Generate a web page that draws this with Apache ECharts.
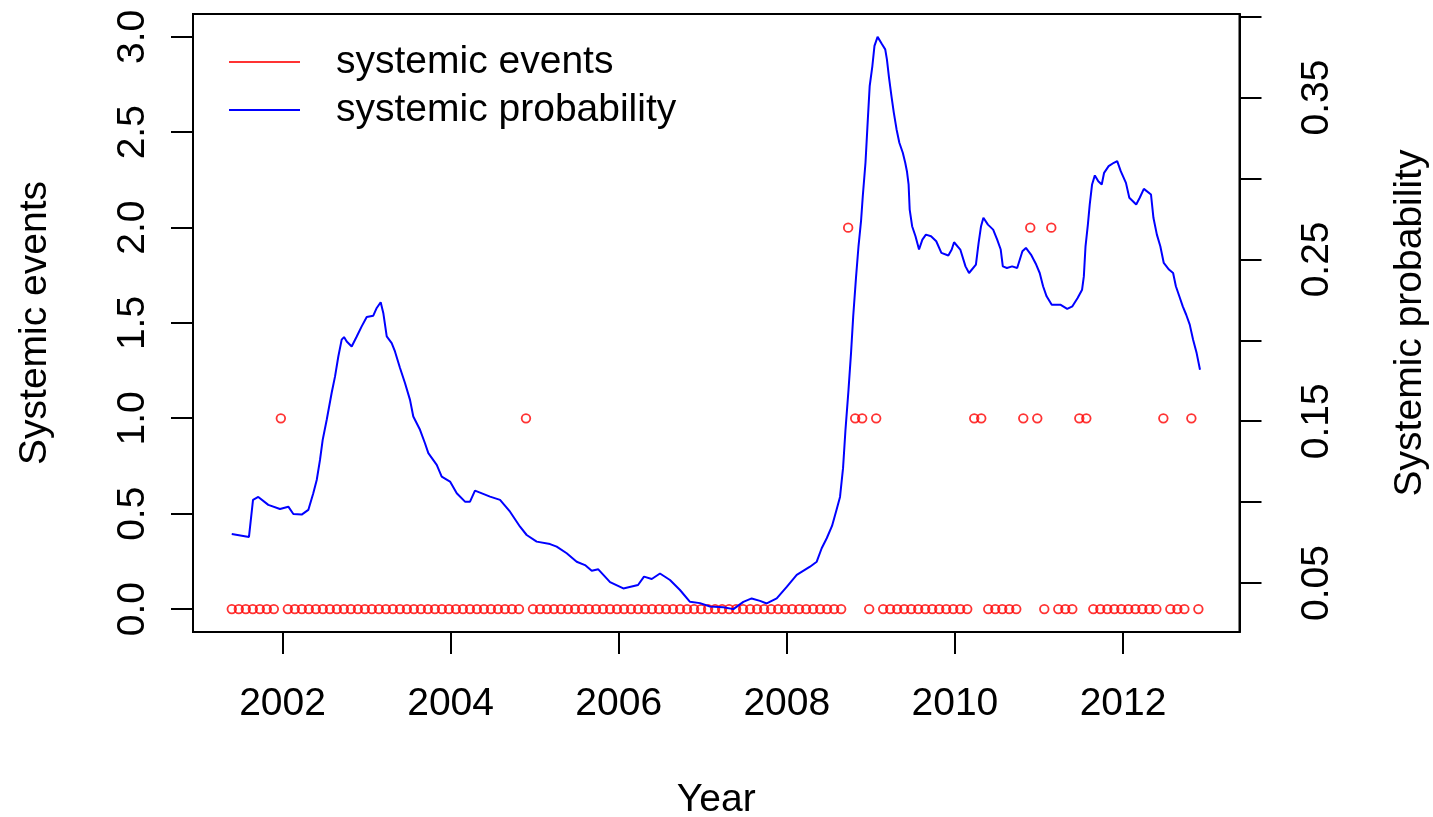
<!DOCTYPE html>
<html>
<head>
<meta charset="utf-8">
<script src="https://cdn.jsdelivr.net/npm/echarts@6/dist/echarts.min.js"></script>
<style>
html,body{margin:0;padding:0;background:#ffffff;}
#chart{width:1433px;height:817px;background:#ffffff;}
</style>
</head>
<body>
<div id="chart"></div>
<script>
// ---------------- data ----------------
// Monthly systemic event counts, first observation May 2001
const eventStartYear = 2001;
const eventStartMonth = 5;
const eventDayFraction = 0.76; // observations fall late in each month
const eventCounts = [
  0,0,0,0,0,0,0,1,                 // 2001 May-Dec
  0,0,0,0,0,0,0,0,0,0,0,0,         // 2002
  0,0,0,0,0,0,0,0,0,0,0,0,         // 2003
  0,0,0,0,0,0,0,0,0,0,1,0,         // 2004
  0,0,0,0,0,0,0,0,0,0,0,0,         // 2005
  0,0,0,0,0,0,0,0,0,0,0,0,         // 2006
  0,0,0,0,0,0,0,0,0,0,0,0,         // 2007
  0,0,0,0,0,0,0,0,2,1,1,0,         // 2008
  1,0,0,0,0,0,0,0,0,0,0,0,         // 2009
  0,0,1,1,0,0,0,0,0,1,2,1,         // 2010
  0,2,0,0,0,1,1,0,0,0,0,0,         // 2011
  0,0,0,0,0,1,0,0,0,1,0            // 2012 Jan-Nov
];

// Systemic probability (decimal year, probability)
const probYears = [
  2001.396,2001.601,2001.649,2001.712,2001.831,2001.970,2002.069,2002.129,2002.228,2002.307,
  2002.366,2002.407,2002.446,2002.478,2002.526,2002.585,2002.625,2002.664,2002.704,2002.732,
  2002.764,2002.823,2002.883,2002.942,2003.002,2003.080,2003.121,2003.168,2003.199,2003.240,
  2003.299,2003.338,2003.398,2003.457,2003.517,2003.556,2003.636,2003.695,2003.735,2003.835,
  2003.894,2003.993,2004.073,2004.171,2004.231,2004.290,2004.350,2004.469,2004.588,2004.707,
  2004.826,2004.905,2005.024,2005.183,2005.262,2005.381,2005.500,2005.599,2005.679,2005.757,
  2005.897,2006.055,2006.230,2006.301,2006.393,2006.491,2006.610,2006.729,2006.848,2006.967,
  2007.086,2007.245,2007.364,2007.483,2007.582,2007.681,2007.761,2007.880,2007.999,2008.118,
  2008.276,2008.356,2008.415,2008.475,2008.538,2008.591,2008.633,2008.669,2008.698,2008.734,
  2008.764,2008.790,2008.823,2008.853,2008.883,2008.904,2008.936,2008.965,2008.986,2009.018,
  2009.043,2009.080,2009.133,2009.171,2009.191,2009.216,2009.245,2009.273,2009.306,2009.339,
  2009.380,2009.409,2009.429,2009.449,2009.462,2009.491,2009.531,2009.573,2009.613,2009.655,
  2009.716,2009.778,2009.839,2009.922,2009.962,2009.990,2010.064,2010.126,2010.168,2010.250,
  2010.282,2010.311,2010.339,2010.393,2010.455,2010.503,2010.545,2010.570,2010.619,2010.681,
  2010.741,2010.803,2010.845,2010.905,2010.967,2011.009,2011.049,2011.091,2011.152,2011.254,
  2011.336,2011.398,2011.460,2011.513,2011.534,2011.554,2011.582,2011.604,2011.632,2011.665,
  2011.706,2011.747,2011.775,2011.829,2011.891,2011.931,2011.973,2012.035,2012.075,2012.157,
  2012.199,2012.248,2012.333,2012.362,2012.403,2012.444,2012.485,2012.547,2012.596,2012.629,
  2012.670,2012.711,2012.752,2012.794,2012.834,2012.876,2012.916
];
const probValues = [
  0.0803,0.0785,0.1014,0.1032,0.0983,0.0958,0.0972,0.0927,0.0923,0.0952,
  0.1055,0.1137,0.1261,0.1385,0.1509,0.1676,0.1777,0.1900,0.2004,0.2020,
  0.1993,0.1962,0.2024,0.2086,0.2144,0.2152,0.2200,0.2235,0.2169,0.2024,
  0.1983,0.1931,0.1829,0.1736,0.1632,0.1529,0.1447,0.1364,0.1303,0.1230,
  0.1158,0.1127,0.1055,0.1003,0.1003,0.1071,0.1059,0.1034,0.1014,0.0941,
  0.0848,0.0797,0.0756,0.0741,0.0725,0.0684,0.0632,0.0611,0.0576,0.0585,
  0.0506,0.0467,0.0488,0.0540,0.0525,0.0559,0.0519,0.0457,0.0384,0.0376,
  0.0355,0.0351,0.0339,0.0384,0.0405,0.0390,0.0374,0.0405,0.0477,0.0550,
  0.0601,0.0632,0.0715,0.0777,0.0853,0.0952,0.1032,0.1210,0.1447,0.1694,
  0.1921,0.2148,0.2386,0.2581,0.2736,0.2891,0.3097,0.3376,0.3571,0.3695,
  0.3819,0.3875,0.3829,0.3798,0.3736,0.3623,0.3509,0.3407,0.3303,0.3221,
  0.3159,0.3097,0.3045,0.2963,0.2808,0.2705,0.2643,0.2561,0.2622,0.2653,
  0.2643,0.2612,0.2540,0.2524,0.2561,0.2606,0.2561,0.2457,0.2416,0.2468,
  0.2602,0.2705,0.2757,0.2715,0.2684,0.2622,0.2561,0.2457,0.2447,0.2457,
  0.2447,0.2550,0.2571,0.2530,0.2468,0.2416,0.2334,0.2272,0.2220,0.2220,
  0.2194,0.2210,0.2262,0.2313,0.2395,0.2581,0.2715,0.2839,0.2963,0.3019,
  0.2983,0.2963,0.3035,0.3076,0.3097,0.3107,0.3045,0.2973,0.2881,0.2839,
  0.2881,0.2936,0.2901,0.2757,0.2653,0.2581,0.2478,0.2437,0.2416,0.2334,
  0.2272,0.2210,0.2158,0.2097,0.2004,0.1921,0.1818
];

// Axis ticks / labels
const xTicks = [2002, 2004, 2006, 2008, 2010, 2012];
const leftTicks = [0, 0.5, 1, 1.5, 2, 2.5, 3];
const rightTicks = [0.05, 0.10, 0.15, 0.20, 0.25, 0.30, 0.35, 0.40];
const rightLabelTicks = [0.05, 0.15, 0.25, 0.35];

// ---------------- chart ----------------
const eventData = eventCounts.map(function (v, i) {
  const m = eventStartMonth - 1 + i;
  const year = eventStartYear + Math.floor(m / 12);
  return [year + ((m % 12) + eventDayFraction) / 12, v];
});
const probData = probYears.map(function (t, i) { return [t, probValues[i]]; });

const FONT = '"Liberation Sans", Arial, sans-serif';
const FS = 39;
const TICK_LEN = 22;
const EV_MIN = -0.12, EV_MAX = 3.12;
const W = 1433, H = 817;
const GRID = { left: 193, right: 193.5, top: 14, bottom: 185 };
const txt = { fontFamily: FONT, fontSize: FS, color: '#000000' };
const axLine = { show: true, onZero: false, lineStyle: { color: '#000000', width: 2 } };
const tick = function (vals) {
  return { show: true, inside: false, length: TICK_LEN, customValues: vals, lineStyle: { color: '#000000', width: 2 } };
};
function fmt(digits) {
  return function (v) {
    const n = Number(v && typeof v === 'object' && 'value' in v ? v.value : v);
    return isFinite(n) ? n.toFixed(digits) : String(v);
  };
}

// events-scale mapping for the left tick marks (same linear scale as yAxis[0])
const plotH = H - GRID.top - GRID.bottom;
function evScale(v) { return GRID.top + (EV_MAX - v) / (EV_MAX - EV_MIN) * plotH; }

const graphicEls = [{
  type: 'text', id: 'yTitleLeft', x: 35, y: 323, rotation: Math.PI / 2, silent: true,
  style: { text: 'Systemic events', fill: '#000000', font: FS + 'px ' + FONT, textAlign: 'center', textVerticalAlign: 'middle' }
}];
leftTicks.forEach(function (v, i) {
  const y = Math.round(evScale(v));
  graphicEls.push({
    type: 'line', id: 'leftTick' + i, silent: true, z: 100,
    shape: { x1: GRID.left - TICK_LEN, y1: y, x2: GRID.left, y2: y },
    style: { stroke: '#000000', lineWidth: 2 }
  });
});

const chart = echarts.init(document.getElementById('chart'), null, { renderer: 'canvas' });
chart.setOption({
  animation: false,
  grid: Object.assign({ show: true, borderColor: '#000000', borderWidth: 2, outerBoundsMode: 'none' }, GRID),
  graphic: graphicEls,
  legend: {
    left: 229, top: 42, orient: 'vertical', padding: 0,
    itemGap: 8, itemWidth: 71, itemHeight: 2, icon: 'rect',
    selectedMode: false,
    textStyle: Object.assign({}, txt, { padding: [0, 0, 0, 31], lineHeight: 40 }),
    data: [
      { name: 'systemic events', itemStyle: { color: '#ff0000', borderWidth: 0 } },
      { name: 'systemic probability', itemStyle: { color: '#0000ff', borderWidth: 0 } }
    ]
  },
  xAxis: {
    type: 'value', min: 2000.935, max: 2013.386, position: 'bottom',
    name: 'Year', nameLocation: 'middle', nameGap: 149, nameTextStyle: txt,
    axisLine: axLine, splitLine: { show: false },
    axisTick: tick(xTicks),
    axisLabel: Object.assign({ customValues: xTicks, margin: 53, formatter: fmt(0) }, txt)
  },
  yAxis: [
    {
      type: 'value', position: 'left', min: EV_MIN, max: EV_MAX,
      axisLine: axLine, splitLine: { show: false },
      axisTick: { show: false },
      axisLabel: Object.assign({ customValues: leftTicks, rotate: 90, margin: 40, formatter: fmt(1) }, txt)
    },
    {
      type: 'value', position: 'right', min: 0.01976, max: 0.40164,
      name: 'Systemic probability', nameLocation: 'middle', nameGap: 151, nameRotate: 90, nameTextStyle: txt,
      axisLine: axLine, splitLine: { show: false },
      axisTick: tick(rightTicks),
      axisLabel: Object.assign({ customValues: rightLabelTicks, rotate: 90, margin: 58, formatter: fmt(2) }, txt)
    }
  ],
  series: [
    {
      type: 'scatter', name: 'systemic events', xAxisIndex: 0, yAxisIndex: 0,
      data: eventData, symbol: 'circle', symbolSize: 8.6,
      itemStyle: { color: 'rgba(0,0,0,0)', borderColor: '#ff0000', borderWidth: 1.8 },
      z: 2
    },
    {
      type: 'line', name: 'systemic probability', xAxisIndex: 0, yAxisIndex: 1,
      data: probData, showSymbol: false, symbol: 'none',
      lineStyle: { color: '#0000ff', width: 2 }, itemStyle: { color: '#0000ff' },
      z: 3
    }
  ]
});
</script>
</body>
</html>
